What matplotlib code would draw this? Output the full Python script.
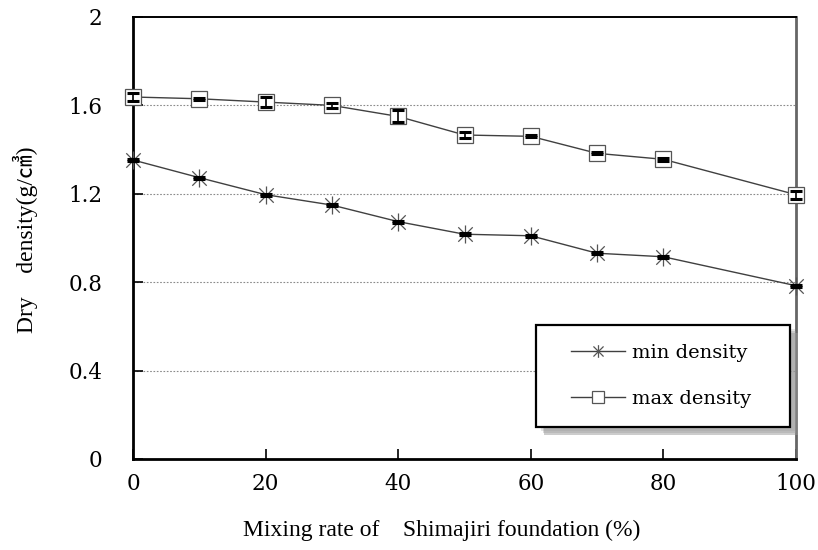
import numpy as np
import matplotlib
matplotlib.use("Agg")
import matplotlib.pyplot as plt
from matplotlib.path import Path
from matplotlib.patches import Rectangle, Shadow

# mixing rate (%) and measured dry densities (g/cm3)
mix_rate = [0, 10, 20, 30, 40, 50, 60, 70, 80, 100]
min_density = [1.353, 1.273, 1.196, 1.149, 1.074, 1.017, 1.010, 0.931, 0.915, 0.784]
min_err = [0.005, 0.005, 0.005, 0.005, 0.004, 0.005, 0.005, 0.004, 0.004, 0.005]
max_density = [1.638, 1.630, 1.615, 1.600, 1.550, 1.466, 1.460, 1.383, 1.356, 1.196]
max_err = [0.018, 0.004, 0.022, 0.013, 0.027, 0.013, 0.004, 0.004, 0.008, 0.018]

x_ticks = [0, 20, 40, 60, 80, 100]
y_ticks = [0, 0.4, 0.8, 1.2, 1.6, 2]
y_tick_labels = ["0", "0.4", "0.8", "1.2", "1.6", "2"]

# asterisk marker: vertical stroke plus two diagonals
star = Path([(0, -1), (0, 1), (-0.8, -0.8), (0.8, 0.8), (-0.8, 0.8), (0.8, -0.8)],
            [Path.MOVETO, Path.LINETO] * 3)

fig = plt.figure(figsize=(8.18, 5.5), dpi=100)
ax = fig.add_axes([0.1626, 0.1655, 0.8105, 0.8036])

for y in [0.4, 0.8, 1.2, 1.6]:
    ax.axhline(y, color="#8a8a8a", lw=0.8, ls=(0, (1.5, 1.5)), zorder=1)

ax.plot(mix_rate, min_density, color="#404040", lw=1.0, marker=star, ms=13,
        mec="#555555", mew=0.9, label="min density", zorder=3, clip_on=False)
ax.plot(mix_rate, max_density, color="#404040", lw=1.0, marker="s", ms=11.5,
        mfc="white", mec="#555555", mew=0.9, label="max density", zorder=3, clip_on=False)
ax.errorbar(mix_rate, min_density, yerr=min_err, fmt="none", ecolor="black",
            elinewidth=1.2, capsize=4.3, capthick=2.2, zorder=4, clip_on=False)
ax.errorbar(mix_rate, max_density, yerr=max_err, fmt="none", ecolor="black",
            elinewidth=1.2, capsize=4.3, capthick=2.2, zorder=4, clip_on=False)

ax.set_xlim(0, 100)
ax.set_ylim(0, 2)
ax.set_xticks(x_ticks)
ax.set_yticks(y_ticks)
ax.set_yticklabels(y_tick_labels)
ax.tick_params(direction="in", length=7, width=1.2, color="black", pad=10,
               labelsize=15.5, top=False, right=False)
ax.tick_params(axis="y", pad=22)
for lbl in ax.get_xticklabels() + ax.get_yticklabels():
    lbl.set_fontfamily("DejaVu Serif")

ax.spines["left"].set_linewidth(2)
ax.spines["bottom"].set_linewidth(2)
ax.spines["top"].set_linewidth(1.4)
ax.spines["right"].set_linewidth(2)
ax.spines["right"].set_color("#666666")

label_font = ["Liberation Serif", "Noto Sans CJK JP"]
ax.set_xlabel("Mixing rate of    Shimajiri foundation (%)", fontsize=17,
              family=label_font, va="center")
ax.xaxis.set_label_coords(0.466, -0.161)
ax.set_ylabel("Dry    density(g/㎤)", fontsize=17, family=label_font, va="center")
ax.yaxis.set_label_coords(-0.163, 0.495)

# legend frame with a soft drop shadow
frame = Rectangle((0.608, 0.072), 0.383, 0.231, transform=ax.transAxes,
                  facecolor="white", edgecolor="black", lw=1.6, zorder=6, clip_on=False)
for i, a in enumerate([0.25, 0.35, 0.5]):
    d = 0.002 * (i + 1)
    sh = Shadow(frame, 0.003 + d, -0.004 - 1.5 * d, facecolor="#9a9a9a", alpha=a,
                zorder=5.9)
    sh.set_linewidth(0)
    sh.set_clip_on(False)
    ax.add_patch(sh)
ax.add_patch(frame)

leg = ax.legend(loc="center", bbox_to_anchor=(0.796, 0.188), frameon=False,
                prop={"family": "DejaVu Serif", "size": 14}, handlelength=2.8,
                handletextpad=0.35, labelspacing=1.45, numpoints=1, markerscale=0.7)
leg.set_zorder(7)

fig.savefig("out.png", dpi=100)
